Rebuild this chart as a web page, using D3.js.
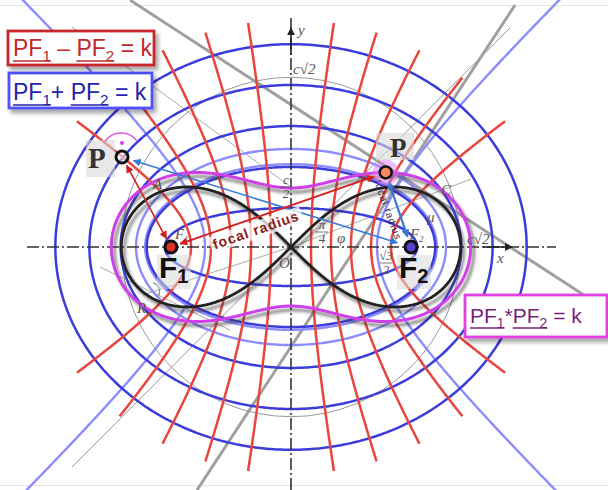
<!DOCTYPE html>
<html>
<head>
<meta charset="utf-8">
<script src="https://cdn.jsdelivr.net/npm/d3@7"></script>
<style>
  body { margin: 0; background: #fff; }
  svg { display: block; }
  text { white-space: pre; }
</style>
</head>
<body>
<svg id="chart" width="608" height="490"></svg>
<script>
// all lengths in units of the focal distance c (foci at -1 and +1)
const ellipseB = [0.325, 0.667, 1.008, 1.35, 1.69];      // PF1 + PF2 = k  (dark blue)
const lightEllipseB = [0.69, 0.817];                      // light blue ellipses
const hyperbolaA = [0.167, 0.333, 0.5, 0.667, 0.833];     // PF1 - PF2 = k  (red)
const hyperbolaBoundB = 1.9;                              // red curves stop on this ellipse
const lightHyperbolaA = [0.717];                          // light blue hyperbola
const cassiniK2 = [1.242];                                // PF1 * PF2 = k  (magenta)
const lemniscateA = Math.SQRT2;                           // black lemniscate
const circleR = [Math.SQRT2];                             // thin grey circle c*sqrt2
const foci = [{name: "F1", x: -1, fill: "#e0302a"}, {name: "F2", x: 1, fill: "#5b3fd0"}];
const pointLeft = {x: -1.408, y: 0.75};
const pointRightAngle = 38.2;                             // degrees, point P on the Cassini oval
const greyLines = [
  {x1: -1.825, y1: -1.833, x2: 1.825, y2: 1.825, w: 1, c: "#999"},
  {x1: -1.825, y1: 1.833, x2: 0, y2: 0.5, w: 1, c: "#aaa"},
  {x1: 0, y1: 0, x2: 1.5, y2: 0.566, w: 1, c: "#aaa"},
  {x1: -1.592, y1: -0.167, x2: -0.508, y2: -0.692, w: 1, c: "#aaa"},
  {x1: -1.233, y1: -0.4, x2: 0, y2: 0, w: 1, c: "#aaa"},
  {x1: -1.342, y1: 2.058, x2: 2.533, y2: -0.46, w: 3, c: "#a0a0a0"},
  {x1: 1.867, y1: 2.017, x2: -0.783, y2: -2.025, w: 3, c: "#a0a0a0"}
];

const svg = d3.select("#chart");
const x = d3.scaleLinear().domain([0, 1]).range([291, 411]);
const y = d3.scaleLinear().domain([0, 1]).range([247, 127]);
const line = d3.line().x(d => x(d[0])).y(d => y(d[1]));

const defs = svg.append("defs");
const sh = defs.append("filter").attr("id", "shadow")
  .attr("x", "-10%").attr("y", "-10%").attr("width", "130%").attr("height", "130%");
sh.append("feDropShadow").attr("dx", 3).attr("dy", 4).attr("stdDeviation", 1.5)
  .attr("flood-color", "#333").attr("flood-opacity", 0.6);
const bsh = defs.append("filter").attr("id", "boxshadow")
  .attr("x", "-10%").attr("y", "-20%").attr("width", "130%").attr("height", "150%");
bsh.append("feDropShadow").attr("dx", 3).attr("dy", 4).attr("stdDeviation", 2)
  .attr("flood-color", "#000").attr("flood-opacity", 0.35);

function marker(id, color) {
  defs.append("marker").attr("id", id)
    .attr("viewBox", "0 0 10 10").attr("refX", 9).attr("refY", 5)
    .attr("markerWidth", 8).attr("markerHeight", 8)
    .attr("markerUnits", "userSpaceOnUse")
    .attr("orient", "auto-start-reverse")
    .append("path").attr("d", "M0,0 L10,5 L0,10 z").attr("fill", color);
}
marker("arRed", "#d42020");
marker("arBlue", "#3a78d6");
marker("arAxis", "#222");

// frame lines
svg.append("line").attr("x1", 0).attr("x2", 608).attr("y1", 5.5).attr("y2", 5.5)
  .attr("stroke", "#e4e4e4");
svg.append("line").attr("x1", 0).attr("x2", 608).attr("y1", 485.5).attr("y2", 485.5)
  .attr("stroke", "#e4e4e4");

// grey construction lines
svg.append("g").selectAll("line").data(greyLines).join("line")
  .attr("x1", d => x(d.x1)).attr("y1", d => y(d.y1))
  .attr("x2", d => x(d.x2)).attr("y2", d => y(d.y2))
  .attr("stroke", d => d.c).attr("stroke-width", d => d.w);

svg.append("g").selectAll("circle").data(circleR).join("circle")
  .attr("cx", x(0)).attr("cy", y(0)).attr("r", d => x(d) - x(0))
  .attr("fill", "none").attr("stroke", "#999").attr("stroke-width", 1);

function ellipsePts(b) {
  const a = Math.sqrt(b * b + 1);
  return d3.range(0, 2 * Math.PI + 0.01, 0.01).map(t => [a * Math.cos(t), b * Math.sin(t)]);
}
function hyperbolaPts(a, sx, boundB, tMax) {
  const b = Math.sqrt(1 - a * a);
  const bA = boundB ? Math.sqrt(boundB * boundB + 1) : 0;
  return d3.range(-tMax, tMax + 0.001, 0.005)
    .map(t => [sx * a * Math.cosh(t), b * Math.sinh(t)])
    .filter(p => !boundB || (p[0] * p[0]) / (bA * bA) + (p[1] * p[1]) / (boundB * boundB) <= 1);
}

// light blue family
const lb = svg.append("g").attr("fill", "none").attr("stroke", "#8c8cff").attr("stroke-width", 2.4);
lb.selectAll("path.e").data(lightEllipseB).join("path").attr("class", "e")
  .attr("d", b => line(ellipsePts(b)));
lightHyperbolaA.forEach(a => {
  [-1, 1].forEach(sx => lb.append("path").attr("d", line(hyperbolaPts(a, sx, null, 2.4))));
});

// dark blue ellipses
svg.append("g").selectAll("path").data(ellipseB).join("path")
  .attr("d", b => line(ellipsePts(b)))
  .attr("fill", "none").attr("stroke", "#3c3cdc").attr("stroke-width", 2.5);

// red hyperbolas
const rg = svg.append("g").attr("fill", "none").attr("stroke", "#e8463c").attr("stroke-width", 2.5);
hyperbolaA.forEach(a => {
  [-1, 1].forEach(sx => rg.append("path").attr("d", line(hyperbolaPts(a, sx, hyperbolaBoundB, 6))));
});

// axes (dash-dot)
svg.append("line").attr("x1", 27).attr("x2", 556).attr("y1", y(0)).attr("y2", y(0))
  .attr("stroke", "#333").attr("stroke-width", 1.6).attr("stroke-dasharray", "12,3,2,3");
svg.append("line").attr("x1", x(0)).attr("x2", x(0)).attr("y1", 18).attr("y2", 490)
  .attr("stroke", "#333").attr("stroke-width", 1.6).attr("stroke-dasharray", "12,3,2,3");
svg.append("line").attr("x1", x(1.6)).attr("x2", 512).attr("y1", y(0)).attr("y2", y(0))
  .attr("stroke", "#222").attr("stroke-width", 1.6).attr("marker-end", "url(#arAxis)");
svg.append("line").attr("x1", x(0)).attr("x2", x(0)).attr("y1", y(1.6)).attr("y2", 28)
  .attr("stroke", "#222").attr("stroke-width", 1.6).attr("marker-end", "url(#arAxis)");

// lemniscate
const lemPts = d3.range(0, 2 * Math.PI + 0.005, 0.005).map(t => {
  const s = Math.sin(t), co = Math.cos(t), dd = 1 + s * s;
  return [lemniscateA * co / dd, lemniscateA * s * co / dd];
});
svg.append("path").attr("d", line(lemPts)).attr("fill", "none")
  .attr("stroke", "#222").attr("stroke-width", 2.8).attr("filter", "url(#shadow)");

// small angle arc at R
svg.append("path")
  .attr("d", d3.arc()({innerRadius: 9, outerRadius: 9, startAngle: 0.3, endAngle: 2.2}))
  .attr("transform", `translate(${x(-1.17)},${y(-0.37)})`)
  .attr("fill", "none").attr("stroke", "#888").attr("stroke-width", 1);

// Cassini oval
function cassiniPts(k2) {
  const k4 = k2 * k2;
  return d3.range(0, 2 * Math.PI + 0.005, 0.005).map(th => {
    const s2 = Math.sin(2 * th);
    const r = Math.sqrt(Math.cos(2 * th) + Math.sqrt(k4 - s2 * s2));
    return [r * Math.cos(th), r * Math.sin(th)];
  });
}
svg.append("g").selectAll("path").data(cassiniK2).join("path")
  .attr("d", k2 => line(cassiniPts(k2)))
  .attr("fill", "none").attr("stroke", "#d040e8").attr("stroke-width", 3)
  .attr("filter", "url(#shadow)");

// point P on the oval
const th = pointRightAngle * Math.PI / 180;
const k4 = cassiniK2[0] * cassiniK2[0];
const rP = Math.sqrt(Math.cos(2 * th) + Math.sqrt(k4 - Math.sin(2 * th) ** 2));
const pointRight = {x: rP * Math.cos(th), y: rP * Math.sin(th)};

// grey labels
const gl = svg.append("g").attr("fill", "#555").attr("font-family", "Liberation Serif, serif")
  .attr("font-style", "italic").attr("font-size", 15);
[
  {t: "x", px: 497, py: 263}, {t: "y", px: 298, py: 35}, {t: "O", px: 279, py: 268},
  {t: "φ", px: 337, py: 243}, {t: "μ", px: 427, py: 222}, {t: "C", px: 441, py: 195},
  {t: "R", px: 137, py: 313}, {t: "A", px: 153, py: 189}, {t: "F", px: 175, py: 239},
  {t: "F", px: 410, py: 239}
].forEach(d => gl.append("text").attr("x", d.px).attr("y", d.py).text(d.t));
gl.append("text").attr("x", 184).attr("y", 242).attr("font-size", 9).text("1");
gl.append("text").attr("x", 419).attr("y", 242).attr("font-size", 9).text("2");
gl.append("text").attr("x", 293).attr("y", 74).text("c√2");
gl.append("text").attr("x", 467).attr("y", 244).text("c√2");
function frac(px, py, top, bot) {
  gl.append("text").attr("x", px).attr("y", py - 3).attr("text-anchor", "middle").attr("font-size", 13).text(top);
  gl.append("line").attr("x1", px - 6).attr("x2", px + 6).attr("y1", py).attr("y2", py)
    .attr("stroke", "#555").attr("stroke-width", 0.8);
  gl.append("text").attr("x", px).attr("y", py + 11).attr("text-anchor", "middle").attr("font-size", 13).text(bot);
}
frac(286, 187, "c", "2");
frac(322, 232, "π", "4");
frac(386, 263, "√3", "2");

// arrows
function arrow(p, q, color, mk, w) {
  svg.append("line").attr("x1", x(p[0])).attr("y1", y(p[1])).attr("x2", x(q[0])).attr("y2", y(q[1]))
    .attr("stroke", color).attr("stroke-width", w)
    .attr("marker-start", `url(#${mk})`).attr("marker-end", `url(#${mk})`);
}
function shrink(p, q, d0, d1) {
  const dx = q[0] - p[0], dy = q[1] - p[1], L = Math.hypot(dx, dy);
  return [[p[0] + dx * d0 / L, p[1] + dy * d0 / L], [q[0] - dx * d1 / L, q[1] - dy * d1 / L]];
}
const PL = [pointLeft.x, pointLeft.y], PR = [pointRight.x, pointRight.y];
let s;
s = shrink(PL, [1, 0], 0.1, 0.12); arrow(s[0], s[1], "#3a78d6", "arBlue", 1.5);
s = shrink(PL, [-1, 0], 0.08, 0.08); arrow(s[0], s[1], "#d42020", "arRed", 1.6);
s = shrink(PR, [-1, 0], 0.1, 0.08); arrow(s[0], s[1], "#d42020", "arRed", 1.8);
s = shrink(PR, [1, 0], 0.08, 0.09); arrow(s[0], s[1], "#3a78d6", "arBlue", 2.2);

// focal radius labels
function rotLabel(cx, cy, ang, txt, size, color, bg, weight) {
  const g = svg.append("g").attr("transform", `translate(${cx},${cy}) rotate(${ang})`);
  const t = g.append("text").attr("text-anchor", "middle").attr("dy", "0.35em")
    .attr("font-family", "Liberation Sans, Arial, sans-serif").attr("font-weight", weight)
    .attr("font-size", size).attr("fill", color).attr("letter-spacing", 1).text(txt);
  if (bg) {
    const w = t.node().getComputedTextLength();
    g.insert("rect", "text").attr("x", -w / 2 - 3).attr("y", -size * 0.6).attr("width", w + 6)
      .attr("height", size * 1.2).attr("fill", "#fff").attr("opacity", 0.75);
  }
}
rotLabel(256, 230, -19, "focal radius", 14, "#8b1a1a", true, "bold");
rotLabel(388, 210, 70, "focal radius", 10, "#1e2450", false, "normal");

// P markers
const mg = svg.append("g");
mg.append("rect").attr("x", 86).attr("y", 140).attr("width", 29).attr("height", 37)
  .attr("fill", "#d8d8d8").attr("opacity", 0.6);
mg.append("path")
  .attr("d", d3.arc()({innerRadius: 20, outerRadius: 20, startAngle: -0.95, endAngle: 0.95}))
  .attr("transform", `translate(${x(pointLeft.x) - 1},${y(pointLeft.y) - 4})`)
  .attr("fill", "none").attr("stroke", "#d860e0").attr("stroke-width", 1.5);
mg.append("circle").attr("cx", x(pointLeft.x)).attr("cy", y(pointLeft.y) - 14).attr("r", 2)
  .attr("fill", "#d040e0");
mg.append("circle").attr("cx", x(pointLeft.x)).attr("cy", y(pointLeft.y)).attr("r", 6)
  .attr("fill", "#fff").attr("fill-opacity", 0.5).attr("stroke", "#111").attr("stroke-width", 3);
mg.append("text").attr("x", 88).attr("y", 168).attr("font-family", "Liberation Serif, serif")
  .attr("font-weight", "bold").attr("font-size", 29).attr("fill", "#333").text("P");

mg.append("rect").attr("x", 376).attr("y", 133).attr("width", 38).attr("height", 27)
  .attr("fill", "#d8d8d8").attr("opacity", 0.6);
mg.append("text").attr("x", 390).attr("y", 157).attr("font-family", "Liberation Serif, serif")
  .attr("font-weight", "bold").attr("font-size", 27).attr("fill", "#333").text("P");
mg.append("circle").attr("cx", x(pointRight.x)).attr("cy", y(pointRight.y)).attr("r", 13)
  .attr("fill", "#e070f0").attr("opacity", 0.45);
mg.append("circle").attr("cx", x(pointRight.x)).attr("cy", y(pointRight.y)).attr("r", 6)
  .attr("fill", "#f48a5c").attr("stroke", "#111").attr("stroke-width", 2.5);

// foci
const fl = svg.append("g");
fl.selectAll("rect").data(foci).join("rect")
  .attr("x", d => x(d.x) - 14).attr("y", y(0) + 8).attr("width", 34).attr("height", 34)
  .attr("fill", "#d8d8d8").attr("opacity", 0.55);
fl.selectAll("circle").data(foci).join("circle")
  .attr("cx", d => x(d.x)).attr("cy", y(0)).attr("r", 6)
  .attr("fill", d => d.fill).attr("stroke", "#111").attr("stroke-width", 3);
foci.forEach(d => {
  const t = fl.append("text").attr("x", x(d.x) - 12).attr("y", 278)
    .attr("font-family", "Liberation Sans, Arial, sans-serif").attr("font-weight", "bold")
    .attr("font-size", 30).attr("fill", "#111");
  t.append("tspan").text("F");
  t.append("tspan").attr("font-size", 20).attr("dy", 5).text(d.name.slice(1));
});

// formula boxes
function richText(g, x0, y0, parts, size, color) {
  let cx = x0, ul = null;
  parts.forEach(p => {
    const t = g.append("text").attr("x", cx).attr("y", p.sub ? y0 + size * 0.22 : y0)
      .attr("font-family", "Liberation Sans, Arial, sans-serif")
      .attr("font-size", p.sub ? size * 0.66 : size).attr("fill", color).text(p.t);
    const w = t.node().getComputedTextLength();
    if (p.u) { if (ul === null) ul = cx; }
    if (p.u && !p.more) {
      g.append("line").attr("x1", ul).attr("x2", cx + w).attr("y1", y0 + 5).attr("y2", y0 + 5)
        .attr("stroke", color).attr("stroke-width", 1.5);
      ul = null;
    }
    cx += w;
  });
}
function box(bx, by, bw, bh, stroke, parts, size, color, tx, ty) {
  const g = svg.append("g");
  g.append("rect").attr("x", bx).attr("y", by).attr("width", bw).attr("height", bh)
    .attr("fill", "#fff").attr("stroke", stroke).attr("stroke-width", 2.8)
    .attr("filter", "url(#boxshadow)");
  richText(g, tx, ty, parts, size, color);
}
box(8, 31, 146, 34, "#c8262a", [
  {t: "PF", u: true, more: true}, {t: "1", sub: true, u: true}, {t: " – "},
  {t: "PF", u: true, more: true}, {t: "2", sub: true, u: true}, {t: " = k"}
], 23, "#c0282a", 13, 56);
box(9, 73, 143, 35, "#5050ff", [
  {t: "PF", u: true, more: true}, {t: "1", sub: true, u: true}, {t: "+ "},
  {t: "PF", u: true, more: true}, {t: "2", sub: true, u: true}, {t: " = k"}
], 23, "#2424a8", 13, 100);
box(465, 295, 142, 42, "#e040e0", [
  {t: "PF", u: true, more: true}, {t: "1", sub: true, u: true}, {t: "*"},
  {t: "PF", u: true, more: true}, {t: "2", sub: true, u: true}, {t: " = k"}
], 21, "#7a1f7a", 470, 323);
</script>
</body>
</html>
